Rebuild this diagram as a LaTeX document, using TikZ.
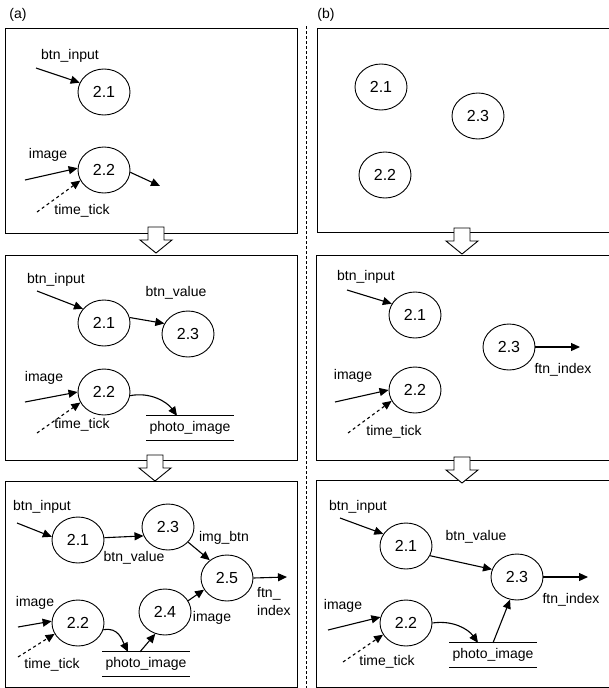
\documentclass[tikz,border=0pt]{standalone}
\usepackage{fontspec}
\setmainfont{Liberation Sans}
\usetikzlibrary{arrows.meta, shapes.geometric}

\begin{document}
\begin{tikzpicture}[x=1pt, y=-1pt, font=\fontsize{14}{18}\selectfont,
  >={Triangle[length=9pt, width=8pt]},
  proc/.style={draw, ellipse, line width=0.9pt, minimum width=52pt,
               minimum height=46pt, inner sep=0pt,
               font=\fontsize{16}{18}\selectfont},
  flow/.style={->, line width=1.1pt},
  tick/.style={->, line width=1.1pt, dash pattern=on 3pt off 3pt},
  lbl/.style={inner sep=0pt},
  store/.style={minimum width=87pt, minimum height=24pt, inner sep=0pt},
  panel/.style={draw, line width=0.9pt}]

  \useasboundingbox (0,0) rectangle (609,688);

  % panels and separator
  \draw[panel] (5,28) rectangle (297,233);
  \draw[panel] (5,255) rectangle (297,460);
  \draw[panel] (5,481) rectangle (297,687);
  \draw[panel] (317,28) rectangle (615,232);
  \draw[panel] (316,255) rectangle (615,460);
  \draw[panel] (316,480) rectangle (615,687);
  \draw[line width=0.9pt, dash pattern=on 3pt off 2pt] (306,26) -- (306,688);

  % hollow step arrows
  \foreach \ax/\ay in {156/227, 155/455, 462/228, 462/457}
    \draw[fill=white, line width=0.9pt] (\ax-8,\ay) -- (\ax+8,\ay) -- (\ax+8,\ay+13)
      -- (\ax+16,\ay+13) -- (\ax,\ay+26) -- (\ax-16,\ay+13) -- (\ax-8,\ay+13) -- cycle;

  \node[lbl] (pa) at (18,15) {(a)};
  \node[lbl] (pb) at (326,15) {(b)};

  % (a) step 1
  \node[proc] (a21) at (104,92) {2.1};
  \node[proc] (a22) at (104,170) {2.2};
  \node[lbl] (a1in) at (70,56) {btn\_input};
  \node[lbl] (a1img) at (48,155) {image};
  \node[lbl] (a1tt) at (82,211) {time\_tick};
  \coordinate (a1s1) at (36,68);
  \coordinate (a1s2) at (25,180);
  \coordinate (a1s3) at (37,212);
  \coordinate (a1e) at (160,186);
  \draw[flow] (a1s1) -- (a21.159);
  \draw[flow] (a1s2) -- (a22.176);
  \draw[tick] (a1s3) -- (a22.204);
  \draw[flow] (a22.355) -- (a1e);

  % (b) step 1
  \node[proc] (b21) at (381,87) {2.1};
  \node[proc] (b23) at (478,116) {2.3};
  \node[proc] (b22) at (385,175) {2.2};

  % (a) step 2
  \node[proc] (c21) at (104,323) {2.1};
  \node[proc] (c23) at (188,334) {2.3};
  \node[proc] (c22) at (104,392) {2.2};
  \node[store] (c40) at (190,428) {photo\_image};
  \node[lbl] (c2in) at (56,280) {btn\_input};
  \node[lbl] (c2val) at (176,293) {btn\_value};
  \node[lbl] (c2img) at (44,378) {image};
  \node[lbl] (c2tt) at (82,425) {time\_tick};
  \coordinate (c2s1) at (37,291);
  \coordinate (c2s2) at (25,402);
  \coordinate (c2s3) at (37,433);
  \draw[flow] (c2s1) -- (c21.146);
  \draw[flow] (c21.12) -- (c23.156);
  \draw[flow] (c2s2) -- (c22.180);
  \draw[tick] (c2s3) -- (c22.204);
  \draw[flow] (c22.-8) .. controls +(20,-4) and +(-10,-14) .. ([xshift=-13pt]c40.north);

  % (b) step 2
  \node[proc] (d21) at (415,315) {2.1};
  \node[proc] (d23) at (509,347) {2.3};
  \node[proc] (d22) at (415,390) {2.2};
  \node[lbl] (d2in) at (366,277) {btn\_input};
  \node[lbl] (d2ftn) at (563,370) {ftn\_index};
  \node[lbl] (d2img) at (353,376) {image};
  \node[lbl] (d2tt) at (394,432) {time\_tick};
  \coordinate (d2s1) at (347,290);
  \coordinate (d2e) at (580,347);
  \coordinate (d2s2) at (335,402);
  \coordinate (d2s3) at (348,433);
  \draw[flow] (d2s1) -- (d21.154);
  \draw[flow] (d23.east) -- (d2e);
  \draw[flow] (d2s2) -- (d22.180);
  \draw[tick] (d2s3) -- (d22.205);

  % (a) step 3
  \node[proc] (e21) at (78,540) {2.1};
  \node[proc] (e23) at (168,527) {2.3};
  \node[proc] (e25) at (227,578) {2.5};
  \node[proc] (e24) at (165,612) {2.4};
  \node[proc] (e22) at (78,623) {2.2};
  \node[store] (e40) at (146,664) {photo\_image};
  \node[lbl] (e3in) at (42,507) {btn\_input};
  \node[lbl] (e3val) at (134,558) {btn\_value};
  \node[lbl] (e3ib) at (224,538) {img\_btn};
  \node[lbl, anchor=west, align=left] (e3ftn) at (257,601) {ftn\_\\index};
  \node[lbl] (e3img2) at (212,618) {image};
  \node[lbl] (e3img) at (35,603) {image};
  \node[lbl] (e3tt) at (52,665) {time\_tick};
  \coordinate (e3s1) at (17,523);
  \coordinate (e3e) at (287,577);
  \coordinate (e3s2) at (18,627);
  \coordinate (e3s3) at (18,657);
  \draw[flow] (e3s1) -- (e21.173);
  \draw[flow] (e21.5) -- (e23.200);
  \draw[flow] (e23.323) -- (e25.134);
  \draw[flow] (e25.east) -- (e3e);
  \draw[flow] (e24.26) -- (e25.207);
  \draw[flow] (e3s2) -- (e22.176);
  \draw[tick] (e3s3) -- (e22.205);
  \draw[flow] (e22.345) .. controls +(15,-3) and +(-6,-12) .. ([xshift=-18pt]e40.north);
  \draw[flow] ([xshift=-6pt]e40.north) -- (e24.246);

  % (b) step 3
  \node[proc] (f21) at (406,546) {2.1};
  \node[proc] (f23) at (517,577) {2.3};
  \node[proc] (f22) at (406,623) {2.2};
  \node[store] (f40) at (493,655) {photo\_image};
  \node[lbl] (f3in) at (358,507) {btn\_input};
  \node[lbl] (f3val) at (476,537) {btn\_value};
  \node[lbl] (f3ftn) at (571,600) {ftn\_index};
  \node[lbl] (f3img) at (343,606) {image};
  \node[lbl] (f3tt) at (387,662) {time\_tick};
  \coordinate (f3s1) at (340,518);
  \coordinate (f3e) at (588,577);
  \coordinate (f3s2) at (328,630);
  \coordinate (f3s3) at (343,662);
  \draw[flow] (f3s1) -- (f21.152);
  \draw[flow] (f21.338) -- (f23.163);
  \draw[flow] (f23.east) -- (f3e);
  \draw[flow] (f3s2) -- (f22.167);
  \draw[tick] (f3s3) -- (f22.207);
  \draw[flow] (f22.east) .. controls +(20,-3) and +(-10,-14) .. ([xshift=-15pt]f40.north);
  \draw[flow] (f40.north) -- (f23.253);

  % data store lines
  \foreach \s in {c40, e40, f40}
    \draw[line width=0.9pt] (\s.north west) -- (\s.north east)
                            (\s.south west) -- (\s.south east);
\end{tikzpicture}
\end{document}
